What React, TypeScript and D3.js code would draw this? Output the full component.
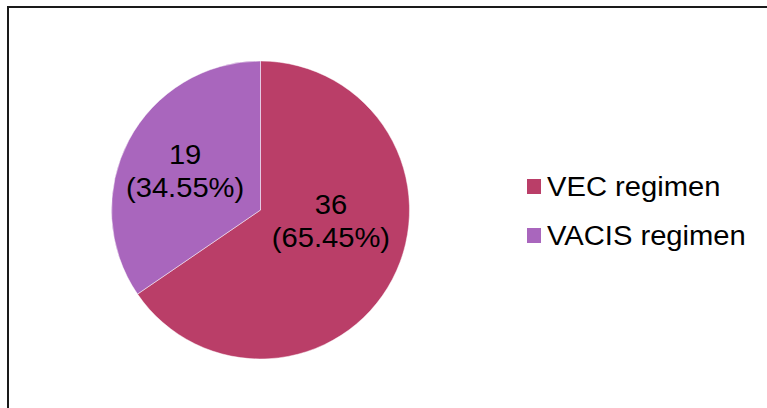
import React, { useEffect, useRef } from 'react';
import * as d3 from 'd3';

// pie data
const categories = ['VEC regimen', 'VACIS regimen'];
const counts = [36, 19];
const percentLabels = ['65.45%', '34.55%'];
const colors = ['#BA3E68', '#A966BD'];

const App = () => {
  const ref = useRef<SVGSVGElement>(null);

  useEffect(() => {
    const width = 767;
    const height = 408;
    const svg = d3.select(ref.current);
    svg.selectAll('*').remove();

    svg.attr('width', width).attr('height', height);

    svg.append('rect').attr('width', width).attr('height', height).attr('fill', '#fff');

    // frame (only left and top visible, cropped on the other sides)
    svg.append('path')
      .attr('d', `M8,${height + 2} V7 H${width + 2}`)
      .attr('fill', 'none')
      .attr('stroke', '#1a1a1a')
      .attr('stroke-width', 2);

    const cx = 260.5;
    const cy = 210;
    const radius = 149;

    const pie = d3.pie<number>().sort(null).value(d => d);
    const arcs = pie(counts);
    const arc = d3.arc<d3.PieArcDatum<number>>().innerRadius(0).outerRadius(radius);

    const g = svg.append('g').attr('transform', `translate(${cx},${cy})`);

    g.selectAll('path.slice')
      .data(arcs)
      .enter()
      .append('path')
      .attr('class', 'slice')
      .attr('d', arc)
      .attr('fill', (d, i) => colors[i])
      .attr('stroke', 'rgba(255,255,255,0.6)')
      .attr('stroke-width', 0.8);

    // labels: centroid, nudged like excel's "best fit"
    const labelArc = d3.arc<d3.PieArcDatum<number>>().innerRadius(radius * 0.5).outerRadius(radius * 0.5);
    const nudge = [[4.5, -24.7], [-9.5, -4.3]];
    const fontSize = 27;
    const stretch = 1.08;

    arcs.forEach((d, i) => {
      const [x, y] = labelArc.centroid(d);
      const lg = g.append('g')
        .attr('transform', `translate(${x + nudge[i][0]},${y + nudge[i][1]}) scale(${stretch},1)`);
      const t = lg.append('text')
        .attr('text-anchor', 'middle')
        .attr('font-family', 'Liberation Sans, Arial, sans-serif')
        .attr('font-size', fontSize)
        .attr('fill', '#000');
      t.append('tspan').attr('x', 0).attr('y', -6.5).text(String(counts[i]));
      t.append('tspan').attr('x', 0).attr('y', 26.5).text(`(${percentLabels[i]})`);
    });

    // legend
    const legendY = d3.scalePoint<string>().domain(categories).range([186.5, 235.5]);
    const legend = svg.append('g');
    categories.forEach((c, i) => {
      const y = legendY(c) as number;
      legend.append('rect')
        .attr('x', 527)
        .attr('y', y - 7.5)
        .attr('width', 14)
        .attr('height', 15)
        .attr('fill', colors[i]);
      legend.append('g')
        .attr('transform', `translate(547,${y + 9.6}) scale(${stretch},1)`)
        .append('text')
        .attr('font-family', 'Liberation Sans, Arial, sans-serif')
        .attr('font-size', fontSize)
        .attr('fill', '#000')
        .text(c);
    });
  }, []);

  return <svg ref={ref} style={{ position: 'absolute', left: 0, top: 0, display: 'block' }} />;
};

export default App;
